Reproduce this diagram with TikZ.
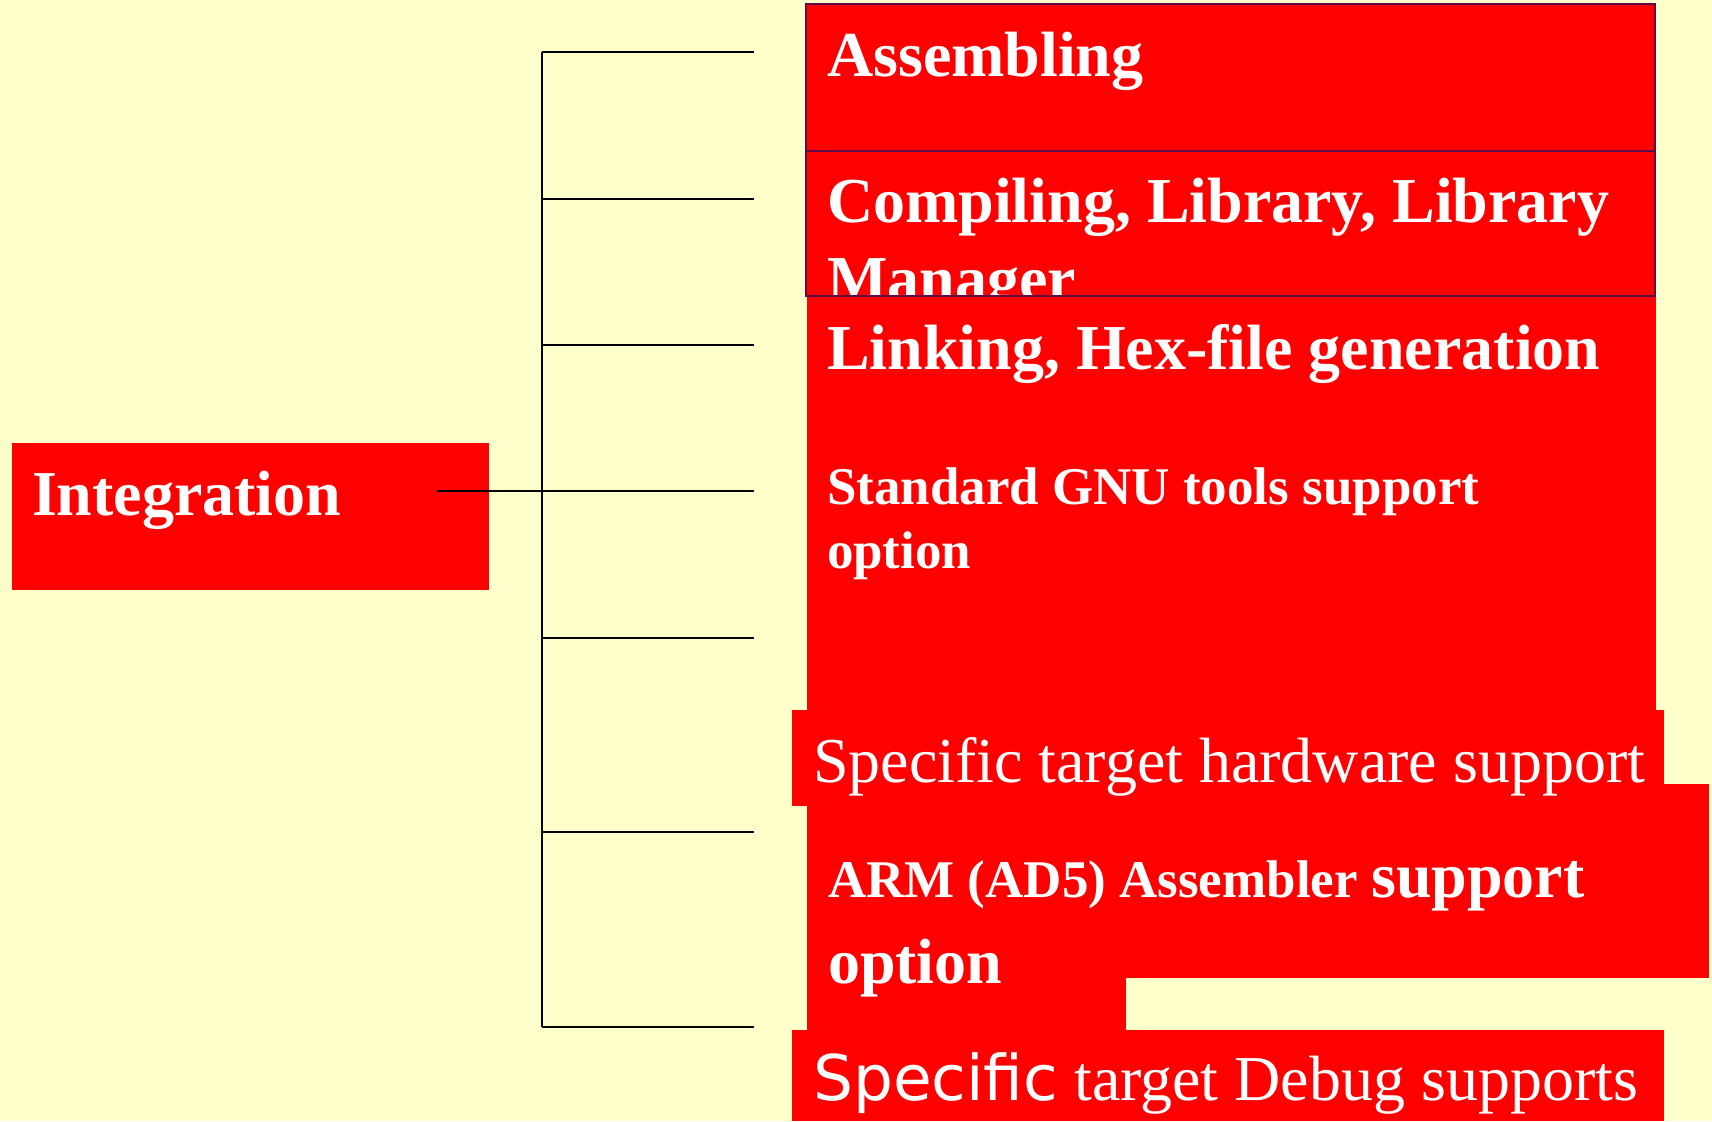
\documentclass[tikz,border=0pt]{standalone}
\usepackage{fontspec}
\setmainfont{Liberation Serif}
\newfontfamily\dejavu{DejaVu Sans}
\definecolor{bg}{HTML}{FFFFCC}
\definecolor{boxred}{HTML}{FF0000}
\definecolor{edgecol}{RGB}{96,10,70}
\begin{document}
\begin{tikzpicture}[x=1pt,y=-1pt,
  redbox/.style={fill=boxred, draw=none, inner sep=0pt, outer sep=0pt, anchor=north west},
  frameline/.style={draw=edgecol, line width=2pt},
  conn/.style={draw=black, line width=2pt},
  lbl/.style={anchor=base west, inner sep=0pt, outer sep=0pt, text=white},
  bigbold/.style={font=\fontsize{64}{77}\selectfont\bfseries},
  midbold/.style={font=\fontsize{53}{64}\selectfont\bfseries},
  bigreg/.style={font=\fontsize{64}{77}\selectfont}]
% background
\fill[bg] (0,0) rectangle (1712,1121);
\useasboundingbox (0,0) rectangle (1712,1121);

% Integration box
\node[redbox, minimum width=477pt, minimum height=147pt] (integ) at (12,443) {};
\node[lbl, bigbold] (integt) at (32,515) {Integration};

% Assembling and Compiling boxes
\node[redbox, minimum width=849pt, minimum height=147pt] (asm) at (806,4) {};
\node[redbox, minimum width=849pt, minimum height=145pt] (comp) at (806,151) {};
\node[lbl, bigbold] (asmt) at (827,77) {Assembling};
\node[lbl, bigbold] (compt) at (827,222) {Compiling, Library, Library};
\node[lbl, bigbold] (compt2) at (827,300) {Manager};

% Linking and GNU boxes
\node[redbox, minimum width=849pt, minimum height=124pt] (link) at (807,296) {};
\node[redbox, minimum width=849pt, minimum height=290pt] (gnu) at (807,420) {};
\draw[frameline] (asm.north west) rectangle (asm.south east);
\draw[frameline] (comp.north west) rectangle (comp.south east);
\node[lbl, bigbold] (linkt) at (827,369) {Linking, Hex-file generation};
\node[lbl, midbold] (gnut) at (827,504) {Standard GNU tools support};
\node[lbl, midbold] (gnut2) at (827,568) {option};

% ARM box
\node[redbox, minimum width=902pt, minimum height=194pt] (arm) at (807,784) {};
\node[redbox, minimum width=319pt, minimum height=52pt] (armtail) at (807,978) {};
\node[lbl, font=\fontsize{53}{64}\selectfont\bfseries] (armt) at (828,897) {ARM (AD5) Assembler {\fontsize{64}{77}\selectfont support}};
\node[lbl, bigbold] (armt2) at (828,983) {option};

% Hardware box
\node[redbox, minimum width=872pt, minimum height=96pt] (hw) at (792,710) {};
\node[lbl, bigreg] (hwt) at (813,782) {Specific target hardware support};

% Debug box
\node[redbox, minimum width=872pt, minimum height=91pt] (dbg) at (792,1030) {};
\node[lbl, bigreg] (dbgt) at (813,1100) {{\dejavu\fontsize{63}{76}\selectfont Specific} target Debug supports};

% connectors
\coordinate (ij) at (437,491);
\coordinate (bt) at (542,52);
\coordinate (bb) at (542,1027);
\coordinate (b1) at (542,52);    \coordinate (e1) at (754,52);
\coordinate (b2) at (542,199);   \coordinate (e2) at (754,199);
\coordinate (b3) at (542,345);   \coordinate (e3) at (754,345);
\coordinate (b4) at (542,491);   \coordinate (e4) at (754,491);
\coordinate (b5) at (542,638);   \coordinate (e5) at (754,638);
\coordinate (b6) at (542,832);   \coordinate (e6) at (754,832);
\coordinate (b7) at (542,1027);  \coordinate (e7) at (754,1027);
\draw[conn] (bt) -- (bb);
\draw[conn] (ij) -- (b4);
\foreach \i in {1,...,7} {\draw[conn] (b\i) -- (e\i);}
\end{tikzpicture}
\end{document}
